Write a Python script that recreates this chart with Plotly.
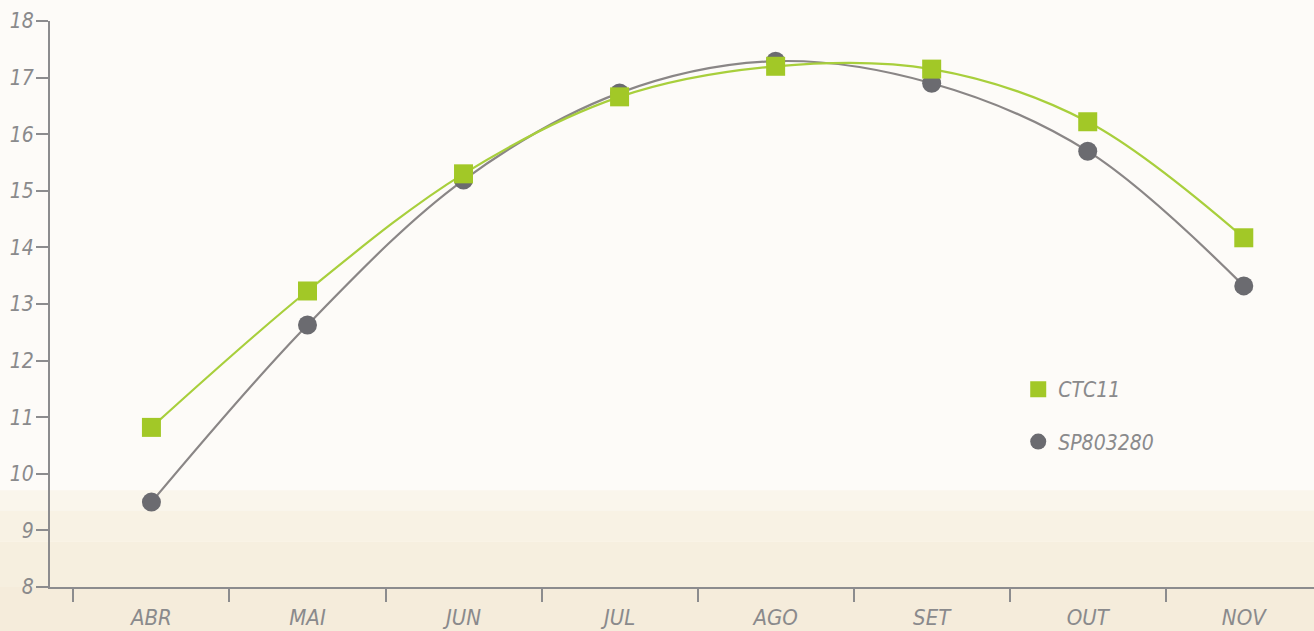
import plotly.graph_objects as go

months = ["ABR", "MAI", "JUN", "JUL", "AGO", "SET", "OUT", "NOV"]
ctc11 = [10.82, 13.23, 15.30, 16.66, 17.20, 17.15, 16.22, 14.17]
sp803280 = [9.50, 12.63, 15.19, 16.73, 17.29, 16.90, 15.70, 13.32]
y_ticks = [8, 9, 10, 11, 12, 13, 14, 15, 16, 17, 18]

GREEN_LINE = "#a8cf3c"
GREEN_MARK = "#a2c827"
GRAY_LINE = "#8a8686"
GRAY_MARK = "#6b6b70"
AXIS = "#8c8c8e"
TEXT = "#8a8a8c"
FONT = "Liberation Sans Narrow, DejaVu Sans Condensed, Roboto, sans-serif"

fig = go.Figure()

# lines (no legend)
fig.add_trace(go.Scatter(
    x=months, y=sp803280, mode="lines", showlegend=False, hoverinfo="skip",
    line=dict(color=GRAY_LINE, width=2.2, shape="spline", smoothing=1.0),
))
fig.add_trace(go.Scatter(
    x=months, y=ctc11, mode="lines", showlegend=False, hoverinfo="skip",
    line=dict(color=GREEN_LINE, width=2.2, shape="spline", smoothing=1.0),
))
# markers (legend)
fig.add_trace(go.Scatter(
    x=months, y=sp803280, name="SP803280", legendgroup="b", legendrank=2,
    mode="markers",
    marker=dict(symbol="circle", size=19, color=GRAY_MARK),
))
fig.add_trace(go.Scatter(
    x=months, y=ctc11, name="CTC11", legendgroup="a", legendrank=1,
    mode="markers",
    marker=dict(symbol="square", size=19, color=GREEN_MARK),
))

bands = [
    (0.171, 0.135, "#faf6ec"),
    (0.135, 0.08, "#f8f2e4"),
    (0.08, 0.0, "#f6efdf"),
    (0.0, -0.1, "#f5ecdb"),
]
shapes = [
    dict(type="rect", xref="paper", yref="paper", x0=-0.05, x1=1.0,
         y0=b, y1=t, fillcolor=c, line=dict(width=0), layer="below")
    for (t, b, c) in bands
]

fig.update_layout(
    width=1314, height=631,
    margin=dict(l=50, r=0, t=21, b=44),
    paper_bgcolor="#fdfbf8",
    plot_bgcolor="rgba(0,0,0,0)",
    font=dict(family=FONT, color=TEXT, size=21, style="italic"),
    showlegend=True,
    legend=dict(
        x=0.766, y=0.385, xanchor="left", yanchor="top",
        bgcolor="rgba(0,0,0,0)",
        font=dict(family=FONT, size=21, color=TEXT, style="italic"),
        traceorder="grouped", tracegroupgap=22,
        itemwidth=30,
    ),
    shapes=shapes,
)

fig.update_xaxes(
    type="category", range=[-0.65, 7.45],
    showline=True, linecolor=AXIS, linewidth=2,
    showgrid=False, zeroline=False,
    ticks="outside", tickson="boundaries", ticklen=13, tickwidth=2, tickcolor=AXIS,
    tickfont=dict(family=FONT, size=22, color=TEXT, style="italic"),
    ticklabelstandoff=10,
    fixedrange=True,
)
fig.update_yaxes(
    range=[8, 18], tickvals=y_ticks,
    showline=True, linecolor=AXIS, linewidth=2,
    showgrid=False, zeroline=False,
    ticks="outside", ticklen=12, tickwidth=2, tickcolor=AXIS,
    tickfont=dict(family=FONT, size=21, color=TEXT, style="italic"),
    ticklabelstandoff=-2,
)

fig.write_html(
    "out.html",
    config={"displayModeBar": False},
    post_script="document.body.style.margin='0';document.body.style.overflow='hidden';",
)
